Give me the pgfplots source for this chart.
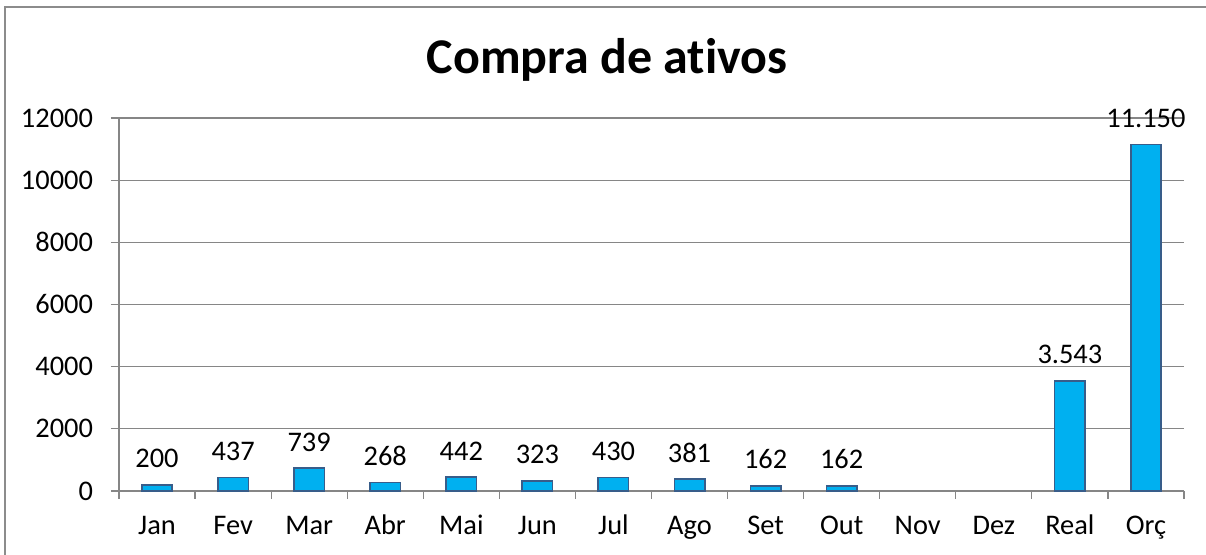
\documentclass[border=0pt]{standalone}
\usepackage{pgfplots}
\pgfplotsset{compat=1.18}
\usepackage{pgfplotstable}
\usepackage{fontspec}
\setmainfont{Carlito}[Ligatures=NoCommon]
\definecolor{barfill}{HTML}{00B0F0}
\definecolor{baredge}{HTML}{385D8A}
\definecolor{gridgray}{HTML}{868686}
\definecolor{framegray}{HTML}{8C8C8C}
\pgfplotstableread{
x y lab
0 200 200
1 437 437
2 739 739
3 268 268
4 442 442
5 323 323
6 430 430
7 381 381
8 162 162
9 162 162
12 3543 3.543
13 11150 11.150
}\datatable
\begin{document}
\begin{tikzpicture}
\useasboundingbox (-59.5pt,-32pt) rectangle (543.5pt,245.5pt);
\draw[framegray, line width=0.8pt] (-57pt,-40pt) -- (-57pt,242pt) -- (560pt,242pt);
\node[anchor=base, font=\fontsize{25}{29}\selectfont\bfseries] at (244pt,208.5pt) {Compra de ativos};
\begin{axis}[
  at={(0pt,0pt)}, anchor=south west,
  scale only axis, width=532.5pt, height=186.5pt,
  xmin=-0.5, xmax=13.5, ymin=0, ymax=12000,
  ytick={0,2000,...,12000},
  scaled y ticks=false,
  xtick={0,...,13},
  xticklabels={Jan,Fev,Mar,Abr,Mai,Jun,Jul,Ago,Set,Out,Nov,Dez,Real,Orç},
  minor xtick={-0.5,0.5,...,13.5},
  major x tick style={draw=none},
  tick align=outside,
  major tick length=4pt, minor tick length=4pt,
  every tick/.style={gridgray, line width=0.6pt},
  axis x line*=bottom, axis y line*=left,
  axis line style={gridgray, line width=0.6pt},
  ymajorgrids, grid style={gridgray, line width=0.6pt},
  /pgf/number format/assume math mode=true,
  /pgf/number format/set thousands separator={},
  tick label style={font=\fontsize{14.2}{17}\selectfont},
  yticklabel style={xshift=-5.5pt},
  xticklabel style={yshift=-5pt, text height=9.2pt, text depth=0pt},
  clip=false,
]
\addplot[ybar, bar width=0.4, fill=barfill, draw=baredge, line width=0.8pt,
  point meta=explicit symbolic,
  nodes near coords,
  every node near coord/.style={anchor=base, yshift=8.5pt, font=\fontsize{14.2}{17}\selectfont, text=black}]
  table[x=x, y=y, meta=lab] {\datatable};
\end{axis}
\end{tikzpicture}
\end{document}
